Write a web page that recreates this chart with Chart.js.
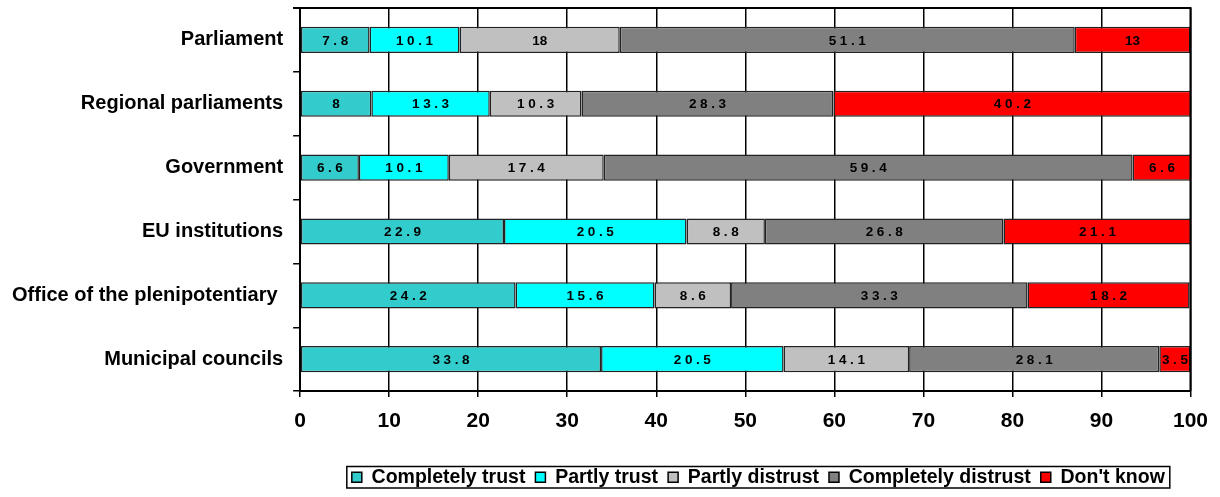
<!DOCTYPE html>
<html>
<head>
<meta charset="utf-8">
<script src="https://cdn.jsdelivr.net/npm/chart.js@4/dist/chart.umd.min.js"></script>
<style>
  html, body { margin: 0; padding: 0; background: #fff; }
  #wrap { width: 1220px; height: 497px; }
</style>
</head>
<body>
<div id="wrap"><canvas id="c" width="1220" height="497"></canvas></div>
<script>
const categories = ["Parliament", "Regional parliaments", "Government", "EU institutions", "Office of the plenipotentiary ", "Municipal councils"];
const completelyTrust    = [7.8, 8, 6.6, 22.9, 24.2, 33.8];
const partlyTrust        = [10.1, 13.3, 10.1, 20.5, 15.6, 20.5];
const partlyDistrust     = [18, 10.3, 17.4, 8.8, 8.6, 14.1];
const completelyDistrust = [51.1, 28.3, 59.4, 26.8, 33.3, 28.1];
const dontKnow           = [13, 40.2, 6.6, 21.1, 18.2, 3.5];
const seriesNames = ["Completely trust", "Partly trust", "Partly distrust", "Completely distrust", "Don't know"];
const xTicks = [0, 10, 20, 30, 40, 50, 60, 70, 80, 90, 100];

const colors = ["#33CCCC", "#00FFFF", "#C0C0C0", "#808080", "#FF0000"];
const seriesData = [completelyTrust, partlyTrust, partlyDistrust, completelyDistrust, dontKnow];

const FONT = "'Liberation Sans', Arial, sans-serif";

const valueLabels = {
  id: 'valueLabels',
  afterDatasetsDraw(chart) {
    const ctx = chart.ctx;
    ctx.save();
    ctx.font = "bold 13.5px " + FONT;
    ctx.fillStyle = "#000";
    ctx.textAlign = "center";
    ctx.textBaseline = "middle";
    chart.data.datasets.forEach((ds, di) => {
      const meta = chart.getDatasetMeta(di);
      meta.data.forEach((el, i) => {
        const v = ds.data[i];
        const s = String(v);
        const sp = Number.isInteger(v) ? 0 : 3.6;
        try { ctx.letterSpacing = sp + "px"; } catch (e) {}
        const cx = (el.x + el.base) / 2 + sp / 2;
        ctx.fillText(s, cx, el.y + 1);
      });
    });
    ctx.restore();
  }
};

const legendShift = {
  id: 'legendShift',
  afterLayout(chart) {
    const lg = chart.legend;
    if (!lg) return;
    const dx = 13;
    lg.left += dx; lg.right += dx;
    if (lg.legendHitBoxes) lg.legendHitBoxes.forEach(h => { h.left += dx; });
  }
};

const frame = {
  id: 'frame',
  afterDraw(chart) {
    const ctx = chart.ctx;
    const a = chart.chartArea;
    ctx.save();
    ctx.strokeStyle = "#000";
    ctx.lineWidth = 2;
    ctx.beginPath();
    ctx.moveTo(a.left - 7, a.top);
    ctx.lineTo(a.right, a.top);
    ctx.lineTo(a.right, a.bottom);
    ctx.stroke();
    const lg = chart.legend;
    if (lg && lg.legendHitBoxes && lg.legendHitBoxes.length) {
      let l = Infinity, r = -Infinity, t = Infinity, b = -Infinity;
      lg.legendHitBoxes.forEach(h => {
        l = Math.min(l, h.left); r = Math.max(r, h.left + h.width);
        t = Math.min(t, h.top); b = Math.max(b, h.top + h.height);
      });
      ctx.lineWidth = 1.5;
      ctx.strokeRect(l - 5, t - 1, (r - l) + 10, (b - t) + 2);
    }
    ctx.restore();
  }
};

new Chart(document.getElementById('c'), {
  type: 'bar',
  data: {
    labels: categories,
    datasets: seriesNames.map((n, i) => ({
      label: n,
      data: seriesData[i],
      backgroundColor: colors[i],
      borderColor: "#222",
      borderWidth: 1.5,
      borderSkipped: false,
      barPercentage: 0.41,
      categoryPercentage: 1.0
    }))
  },
  options: {
    indexAxis: 'y',
    responsive: false,
    animation: false,
    devicePixelRatio: 1,
    layout: { padding: { left: 2, right: 26, top: 8, bottom: 0 } },
    plugins: {
      legend: {
        position: 'bottom',
        fullSize: false,
        title: { display: true, text: '', font: { size: 1 }, padding: { top: 0, bottom: 10 } },
        labels: {
          color: "#000",
          font: { family: FONT, size: 19.5, weight: 'bold' },
          boxWidth: 10,
          boxHeight: 10,
          padding: 10,
          generateLabels(chart) {
            return chart.data.datasets.map((ds, i) => ({
              text: ds.label,
              fillStyle: ds.backgroundColor,
              strokeStyle: "#000",
              lineWidth: 1.5,
              hidden: false,
              datasetIndex: i,
              fontColor: "#000"
            }));
          }
        }
      },
      tooltip: { enabled: false }
    },
    scales: {
      x: {
        stacked: true,
        min: 0,
        max: 100,
        afterBuildTicks(scale) { scale.ticks = xTicks.map(v => ({ value: v })); },
        ticks: {
          color: "#000",
          font: { family: FONT, size: 21, weight: 'bold' },
          padding: 12
        },
        grid: { color: "#000", lineWidth: 1.5, tickLength: 6 },
        border: { color: "#000", width: 2 }
      },
      y: {
        stacked: true,
        afterFit(scale) { scale.paddingTop = 0; scale.paddingBottom = 0; },
        ticks: {
          color: "#000",
          font: { family: FONT, size: 20, weight: 'bold' },
          padding: 10
        },
        grid: { color: "#000", lineWidth: 1.5, drawOnChartArea: false, tickLength: 7, offset: true },
        border: { color: "#000", width: 2 }
      }
    }
  },
  plugins: [valueLabels, legendShift, frame]
});
</script>
</body>
</html>
